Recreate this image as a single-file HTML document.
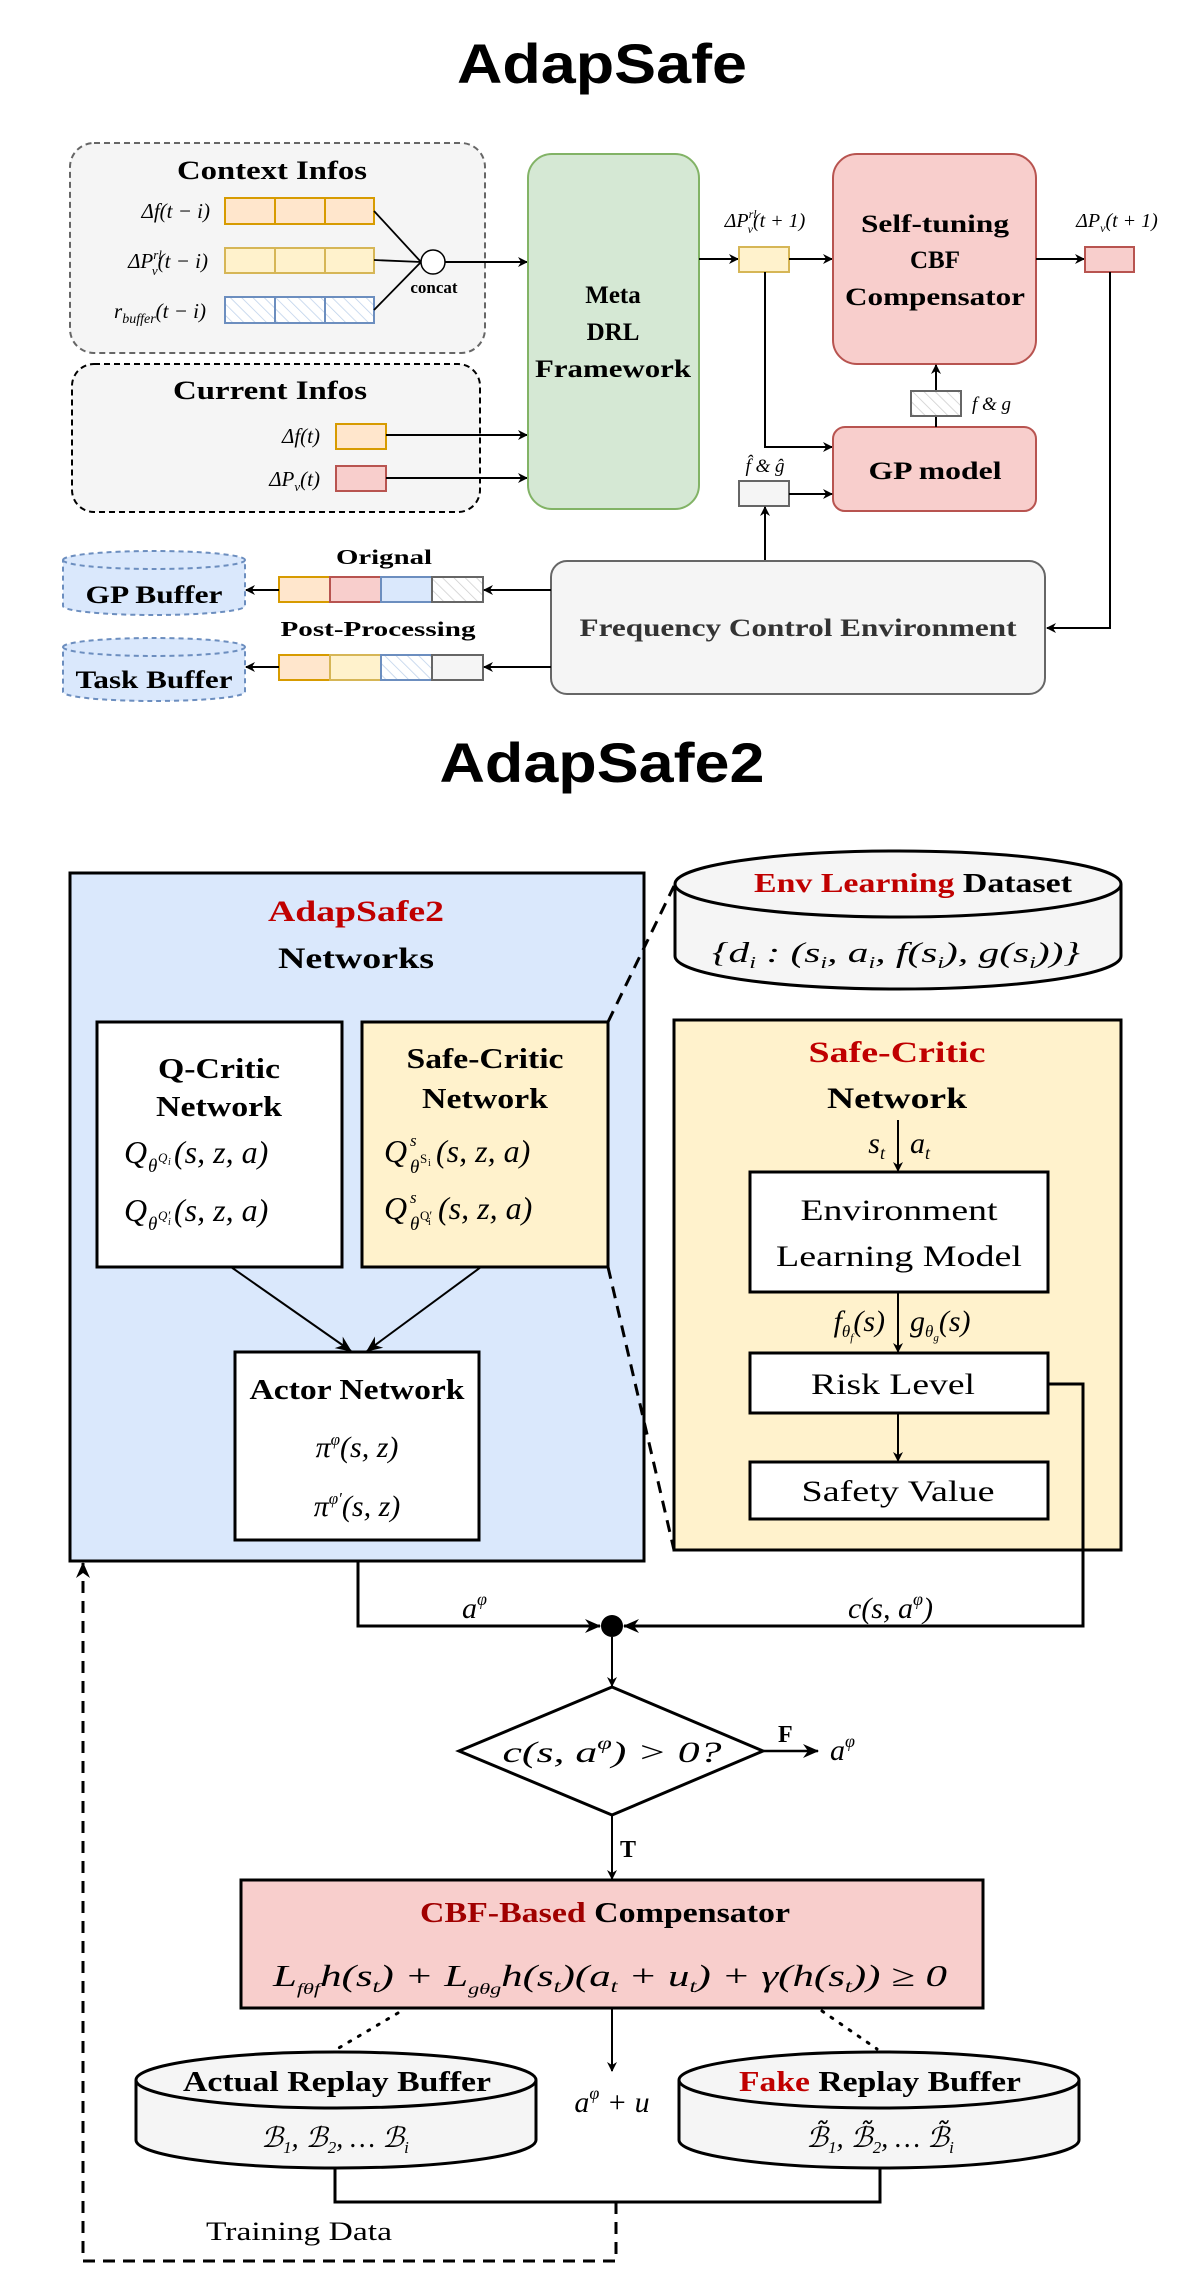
<!DOCTYPE html>
<html><head><meta charset="utf-8"><style>
html,body{margin:0;padding:0;background:#fff;}
svg{display:block;}
.t{font-family:"Liberation Serif",serif;font-weight:bold;}
.m{font-family:"Liberation Serif",serif;font-style:italic;}
.r{font-family:"Liberation Serif",serif;}
</style></head><body>
<svg width="1181" height="2293" viewBox="0 0 1181 2293" xmlns="http://www.w3.org/2000/svg">
<defs>
<pattern id="h" width="8" height="8" patternUnits="userSpaceOnUse" patternTransform="rotate(-45)">
<rect width="8" height="8" fill="#fff"/><line x1="0" y1="0" x2="0" y2="8" stroke="#ccc" stroke-width="1.5"/></pattern>
<pattern id="hb" width="8" height="8" patternUnits="userSpaceOnUse" patternTransform="rotate(-45)">
<rect width="8" height="8" fill="#fff"/><line x1="0" y1="0" x2="0" y2="8" stroke="#bcd0ea" stroke-width="1.5"/></pattern>
<marker id="a" markerWidth="10" markerHeight="10" refX="9" refY="5" orient="auto" markerUnits="userSpaceOnUse"><path d="M0,0 L10,5 L0,10 L3,5 z" fill="#000"/></marker>
<marker id="A" markerWidth="16" markerHeight="16" refX="15" refY="8" orient="auto" markerUnits="userSpaceOnUse"><path d="M0,1 L16,8 L0,15 L5,8 z" fill="#000"/></marker>
</defs>

<!-- ===== TOP ===== -->
<text x="602" y="83" text-anchor="middle" font-family="Liberation Sans,sans-serif" font-weight="bold" font-size="56" textLength="290" lengthAdjust="spacingAndGlyphs">AdapSafe</text>

<rect x="70" y="143" width="415" height="210" rx="24" fill="#f5f5f5" stroke="#666" stroke-width="2" stroke-dasharray="6,4"/>
<text class="t" x="272" y="179" text-anchor="middle" font-size="26" textLength="190" lengthAdjust="spacingAndGlyphs">Context Infos</text>
<text class="m" x="210" y="218" text-anchor="end" font-size="21">Δf(t − i)</text>
<text class="m" x="208" y="268" text-anchor="end" font-size="21">ΔP<tspan font-size="13" dy="-9">rl</tspan><tspan font-size="13" dx="-10" dy="16">v</tspan><tspan dy="-7">(t − i)</tspan></text>
<text class="m" x="206" y="318" text-anchor="end" font-size="21">r<tspan font-size="14" dy="5">buffer</tspan><tspan dy="-5">(t − i)</tspan></text>
<g stroke-width="2">
<rect x="225" y="198" width="50" height="26" fill="#ffe6cc" stroke="#d79b00"/><rect x="275" y="198" width="50" height="26" fill="#ffe6cc" stroke="#d79b00"/><rect x="325" y="198" width="49" height="26" fill="#ffe6cc" stroke="#d79b00"/>
<rect x="225" y="248" width="50" height="25" fill="#fff2cc" stroke="#d6b656"/><rect x="275" y="248" width="50" height="25" fill="#fff2cc" stroke="#d6b656"/><rect x="325" y="248" width="49" height="25" fill="#fff2cc" stroke="#d6b656"/>
<rect x="225" y="297" width="50" height="26" fill="url(#hb)" stroke="#6c8ebf"/><rect x="275" y="297" width="50" height="26" fill="url(#hb)" stroke="#6c8ebf"/><rect x="325" y="297" width="49" height="26" fill="url(#hb)" stroke="#6c8ebf"/>
</g>
<g stroke="#000" stroke-width="1.8" fill="none">
<line x1="374" y1="211" x2="421" y2="262"/><line x1="374" y1="260" x2="421" y2="262"/><line x1="374" y1="310" x2="421" y2="262"/>
</g>
<circle cx="433" cy="262" r="12" fill="#fff" stroke="#000" stroke-width="1.5"/>
<text class="t" x="434" y="293" text-anchor="middle" font-size="17">concat</text>
<line x1="445" y1="262" x2="527" y2="262" stroke="#000" stroke-width="2" marker-end="url(#a)"/>

<rect x="72" y="364" width="408" height="148" rx="22" fill="#f5f5f5" stroke="#000" stroke-width="2" stroke-dasharray="6,4"/>
<text class="t" x="270" y="399" text-anchor="middle" font-size="26" textLength="194" lengthAdjust="spacingAndGlyphs">Current Infos</text>
<text class="m" x="320" y="443" text-anchor="end" font-size="21">Δf(t)</text>
<text class="m" x="320" y="486" text-anchor="end" font-size="21">ΔP<tspan font-size="13" dy="5">v</tspan><tspan dy="-5">(t)</tspan></text>
<rect x="336" y="424" width="50" height="25" fill="#ffe6cc" stroke="#d79b00" stroke-width="2"/>
<rect x="336" y="466" width="50" height="25" fill="#f8cecc" stroke="#b85450" stroke-width="2"/>
<line x1="386" y1="435" x2="527" y2="435" stroke="#000" stroke-width="2" marker-end="url(#a)"/>
<line x1="386" y1="478" x2="527" y2="478" stroke="#000" stroke-width="2" marker-end="url(#a)"/>

<rect x="528" y="154" width="171" height="355" rx="24" fill="#d5e8d4" stroke="#82b366" stroke-width="2"/>
<text class="t" x="613" y="303" text-anchor="middle" font-size="25">Meta</text>
<text class="t" x="613" y="340" text-anchor="middle" font-size="25">DRL</text>
<text class="t" x="613" y="377" text-anchor="middle" font-size="25" textLength="156" lengthAdjust="spacingAndGlyphs">Framework</text>

<text class="m" x="765" y="227" text-anchor="middle" font-size="20">ΔP<tspan font-size="12" dy="-9">rl</tspan><tspan font-size="12" dx="-9" dy="15">v</tspan><tspan dy="-6">(t + 1)</tspan></text>
<line x1="699" y1="259" x2="738" y2="259" stroke="#000" stroke-width="2" marker-end="url(#a)"/>
<rect x="739" y="247" width="50" height="25" fill="#fff2cc" stroke="#d6b656" stroke-width="2"/>
<line x1="789" y1="259" x2="832" y2="259" stroke="#000" stroke-width="2" marker-end="url(#a)"/>
<rect x="833" y="154" width="203" height="210" rx="24" fill="#f8cecc" stroke="#b85450" stroke-width="2"/>
<text class="t" x="935" y="232" text-anchor="middle" font-size="25" textLength="148" lengthAdjust="spacingAndGlyphs">Self-tuning</text>
<text class="t" x="935" y="268" text-anchor="middle" font-size="25">CBF</text>
<text class="t" x="935" y="305" text-anchor="middle" font-size="25" textLength="180" lengthAdjust="spacingAndGlyphs">Compensator</text>
<text class="m" x="1117" y="227" text-anchor="middle" font-size="20">ΔP<tspan font-size="12" dy="5">v</tspan><tspan dy="-5">(t + 1)</tspan></text>
<line x1="1036" y1="259" x2="1084" y2="259" stroke="#000" stroke-width="2" marker-end="url(#a)"/>
<rect x="1085" y="247" width="49" height="25" fill="#f8cecc" stroke="#b85450" stroke-width="2"/>
<polyline points="1110,272 1110,628 1047,628" fill="none" stroke="#000" stroke-width="2" marker-end="url(#a)"/>
<polyline points="765,272 765,447 832,447" fill="none" stroke="#000" stroke-width="2" marker-end="url(#a)"/>

<rect x="833" y="427" width="203" height="84" rx="12" fill="#f8cecc" stroke="#b85450" stroke-width="2"/>
<text class="t" x="935" y="479" text-anchor="middle" font-size="25" textLength="133" lengthAdjust="spacingAndGlyphs">GP model</text>
<line x1="936" y1="427" x2="936" y2="365" stroke="#000" stroke-width="2" marker-end="url(#a)"/>
<rect x="911" y="391" width="50" height="25" fill="url(#h)" stroke="#666" stroke-width="2"/>
<text class="m" x="972" y="410" font-size="19">f &amp; g</text>
<text class="m" x="765" y="472" text-anchor="middle" font-size="19">f̂ &amp; ĝ</text>
<rect x="739" y="481" width="50" height="25" fill="#f5f5f5" stroke="#666" stroke-width="2"/>
<line x1="789" y1="494" x2="832" y2="494" stroke="#000" stroke-width="2" marker-end="url(#a)"/>
<line x1="765" y1="561" x2="765" y2="507" stroke="#000" stroke-width="2" marker-end="url(#a)"/>

<rect x="551" y="561" width="494" height="133" rx="16" fill="#f5f5f5" stroke="#666" stroke-width="2"/>
<text class="t" x="798" y="636" text-anchor="middle" font-size="25" fill="#333" textLength="437" lengthAdjust="spacingAndGlyphs">Frequency Control Environment</text>

<!-- buffers -->
<g fill="#dae8fc" stroke="#6c8ebf" stroke-width="2" stroke-dasharray="5,4">
<path d="M63,560 A91,9 0 0 1 245,560 L245,606 A91,9 0 0 1 63,606 Z"/>
<path d="M63,560 A91,9 0 0 0 245,560"/>
<path d="M63,647 A91,9 0 0 1 245,647 L245,692 A91,9 0 0 1 63,692 Z"/>
<path d="M63,647 A91,9 0 0 0 245,647"/>
</g>
<text class="t" x="154" y="603" text-anchor="middle" font-size="25" textLength="137" lengthAdjust="spacingAndGlyphs">GP Buffer</text>
<text class="t" x="154" y="688" text-anchor="middle" font-size="25" textLength="157" lengthAdjust="spacingAndGlyphs">Task Buffer</text>
<text class="t" x="384" y="564" text-anchor="middle" font-size="21" textLength="96" lengthAdjust="spacingAndGlyphs">Orignal</text>
<text class="t" x="378" y="636" text-anchor="middle" font-size="21" textLength="195" lengthAdjust="spacingAndGlyphs">Post-Processing</text>
<g stroke-width="2">
<rect x="279" y="577" width="51" height="25" fill="#ffe6cc" stroke="#d79b00"/><rect x="330" y="577" width="51" height="25" fill="#f8cecc" stroke="#b85450"/><rect x="381" y="577" width="51" height="25" fill="#dae8fc" stroke="#6c8ebf"/><rect x="432" y="577" width="51" height="25" fill="url(#h)" stroke="#666"/>
<rect x="279" y="655" width="51" height="25" fill="#ffe6cc" stroke="#d79b00"/><rect x="330" y="655" width="51" height="25" fill="#fff2cc" stroke="#d6b656"/><rect x="381" y="655" width="51" height="25" fill="url(#hb)" stroke="#6c8ebf"/><rect x="432" y="655" width="51" height="25" fill="#f5f5f5" stroke="#666"/>
</g>
<line x1="551" y1="590" x2="484" y2="590" stroke="#000" stroke-width="2" marker-end="url(#a)"/>
<line x1="279" y1="590" x2="246" y2="590" stroke="#000" stroke-width="2" marker-end="url(#a)"/>
<line x1="551" y1="667" x2="484" y2="667" stroke="#000" stroke-width="2" marker-end="url(#a)"/>
<line x1="279" y1="667" x2="246" y2="667" stroke="#000" stroke-width="2" marker-end="url(#a)"/>

<!-- ===== BOTTOM ===== -->
<text x="602" y="782" text-anchor="middle" font-family="Liberation Sans,sans-serif" font-weight="bold" font-size="56" textLength="325" lengthAdjust="spacingAndGlyphs">AdapSafe2</text>

<rect x="70" y="873" width="574" height="688" fill="#dae8fc" stroke="#000" stroke-width="3"/>
<text class="t" x="356" y="921" text-anchor="middle" font-size="30" fill="#c00000" textLength="176" lengthAdjust="spacingAndGlyphs">AdapSafe2</text>
<text class="t" x="356" y="968" text-anchor="middle" font-size="30" textLength="156" lengthAdjust="spacingAndGlyphs">Networks</text>

<rect x="97" y="1022" width="245" height="245" fill="#fff" stroke="#000" stroke-width="3"/>
<text class="t" x="219" y="1078" text-anchor="middle" font-size="28" textLength="122" lengthAdjust="spacingAndGlyphs">Q-Critic</text>
<text class="t" x="219" y="1116" text-anchor="middle" font-size="28" textLength="126" lengthAdjust="spacingAndGlyphs">Network</text>
<g class="m">
<text class="m" x="124" y="1163" font-size="32">Q</text>
<text class="m" x="148" y="1172" font-size="19">θ</text>
<text class="r" x="158" y="1162" font-size="13">Q</text><text class="r" x="168" y="1165" font-size="10">i</text>
<text class="m" x="174" y="1163" font-size="32">(s, z, a)</text>
<text class="m" x="124" y="1221" font-size="32">Q</text>
<text class="m" x="148" y="1230" font-size="19">θ</text>
<text class="r" x="158" y="1220" font-size="13">Q′</text><text class="r" x="168" y="1225" font-size="10">i</text>
<text class="m" x="174" y="1221" font-size="32">(s, z, a)</text>
</g>

<rect x="362" y="1022" width="246" height="245" fill="#fff2cc" stroke="#000" stroke-width="3"/>
<text class="t" x="485" y="1068" text-anchor="middle" font-size="28" textLength="157" lengthAdjust="spacingAndGlyphs">Safe-Critic</text>
<text class="t" x="485" y="1108" text-anchor="middle" font-size="28" textLength="126" lengthAdjust="spacingAndGlyphs">Network</text>
<text class="m" x="384" y="1162" font-size="32">Q</text>
<text class="m" x="410" y="1146" font-size="17">s</text>
<text class="m" x="410" y="1173" font-size="19">θ</text>
<text class="r" x="420" y="1163" font-size="13">S</text><text class="r" x="428" y="1166" font-size="10">i</text>
<text class="m" x="436" y="1162" font-size="32">(s, z, a)</text>
<text class="m" x="384" y="1219" font-size="32">Q</text>
<text class="m" x="410" y="1203" font-size="17">s</text>
<text class="m" x="410" y="1230" font-size="19">θ</text>
<text class="r" x="420" y="1220" font-size="13">Q′</text><text class="r" x="428" y="1225" font-size="10">i</text>
<text class="m" x="438" y="1219" font-size="32">(s, z, a)</text>

<line x1="231" y1="1267" x2="351" y2="1351" stroke="#000" stroke-width="2" marker-end="url(#A)"/>
<line x1="481" y1="1267" x2="367" y2="1351" stroke="#000" stroke-width="2" marker-end="url(#A)"/>
<rect x="235" y="1352" width="244" height="188" fill="#fff" stroke="#000" stroke-width="3"/>
<text class="t" x="357" y="1399" text-anchor="middle" font-size="28" textLength="215" lengthAdjust="spacingAndGlyphs">Actor Network</text>
<text class="m" x="357" y="1457" text-anchor="middle" font-size="30">π<tspan font-size="17" dy="-12">φ</tspan><tspan dy="12">(s, z)</tspan></text>
<text class="m" x="357" y="1516" text-anchor="middle" font-size="30">π<tspan font-size="17" dy="-12">φ′</tspan><tspan dy="12">(s, z)</tspan></text>

<!-- dataset cylinder -->
<path d="M675,884 A223,33 0 0 1 1121,884 L1121,956 A223,33 0 0 1 675,956 Z" fill="#f5f5f5" stroke="#000" stroke-width="3"/>
<path d="M675,884 A223,33 0 0 0 1121,884" fill="none" stroke="#000" stroke-width="3"/>
<text class="t" x="913" y="892" text-anchor="middle" font-size="27" textLength="318" lengthAdjust="spacingAndGlyphs"><tspan fill="#c00000">Env Learning</tspan> Dataset</text>
<text class="m" x="896" y="962" text-anchor="middle" font-size="29" textLength="368" lengthAdjust="spacingAndGlyphs">{d<tspan font-size="17" dy="6">i</tspan><tspan dy="-6"> : (s</tspan><tspan font-size="17" dy="6">i</tspan><tspan dy="-6">, a</tspan><tspan font-size="17" dy="6">i</tspan><tspan dy="-6">, f(s</tspan><tspan font-size="17" dy="6">i</tspan><tspan dy="-6">), g(s</tspan><tspan font-size="17" dy="6">i</tspan><tspan dy="-6">))}</tspan></text>

<line x1="608" y1="1022" x2="674" y2="886" stroke="#000" stroke-width="3" stroke-dasharray="12,8"/>
<line x1="608" y1="1267" x2="674" y2="1550" stroke="#000" stroke-width="3" stroke-dasharray="12,8"/>

<rect x="674" y="1020" width="447" height="530" fill="#fff2cc" stroke="#000" stroke-width="3"/>
<text class="t" x="897" y="1062" text-anchor="middle" font-size="30" fill="#c00000" textLength="177" lengthAdjust="spacingAndGlyphs">Safe-Critic</text>
<text class="t" x="897" y="1108" text-anchor="middle" font-size="30" textLength="140" lengthAdjust="spacingAndGlyphs">Network</text>
<text class="m" x="885" y="1153" text-anchor="end" font-size="30">s<tspan font-size="18" dy="6">t</tspan></text>
<text class="m" x="910" y="1153" font-size="30">a<tspan font-size="18" dy="6">t</tspan></text>
<line x1="898" y1="1120" x2="898" y2="1171" stroke="#000" stroke-width="2" marker-end="url(#a)"/>
<rect x="750" y="1172" width="298" height="120" fill="#fff" stroke="#000" stroke-width="3"/>
<text class="r" x="899" y="1220" text-anchor="middle" font-size="30" textLength="197" lengthAdjust="spacingAndGlyphs">Environment</text>
<text class="r" x="899" y="1266" text-anchor="middle" font-size="30" textLength="246" lengthAdjust="spacingAndGlyphs">Learning Model</text>
<text class="m" x="885" y="1331" text-anchor="end" font-size="30">f<tspan font-size="17" dy="6">θ</tspan><tspan font-size="11" dy="4">f</tspan><tspan dy="-10">(s)</tspan></text>
<text class="m" x="910" y="1331" font-size="30">g<tspan font-size="17" dy="6">θ</tspan><tspan font-size="11" dy="4">g</tspan><tspan dy="-10">(s)</tspan></text>
<line x1="898" y1="1292" x2="898" y2="1352" stroke="#000" stroke-width="2" marker-end="url(#a)"/>
<rect x="750" y="1353" width="298" height="60" fill="#fff" stroke="#000" stroke-width="3"/>
<text class="r" x="893" y="1394" text-anchor="middle" font-size="30" textLength="164" lengthAdjust="spacingAndGlyphs">Risk Level</text>
<line x1="898" y1="1413" x2="898" y2="1461" stroke="#000" stroke-width="2" marker-end="url(#a)"/>
<rect x="750" y="1462" width="298" height="57" fill="#fff" stroke="#000" stroke-width="3"/>
<text class="r" x="898" y="1501" text-anchor="middle" font-size="30" textLength="193" lengthAdjust="spacingAndGlyphs">Safety Value</text>

<!-- merge -->
<polyline points="1048,1384 1083,1384 1083,1626 624,1626" fill="none" stroke="#000" stroke-width="3" marker-end="url(#A)"/>
<polyline points="358,1561 358,1626 600,1626" fill="none" stroke="#000" stroke-width="3" marker-end="url(#A)"/>
<ellipse cx="612" cy="1626" rx="11" ry="11" fill="#000"/>
<text class="m" x="462" y="1618" font-size="30">a<tspan font-size="18" dy="-13">φ</tspan></text>
<text class="m" x="848" y="1618" font-size="30">c(s, a<tspan font-size="18" dy="-13">φ</tspan><tspan dy="13">)</tspan></text>
<line x1="612" y1="1637" x2="612" y2="1686" stroke="#000" stroke-width="2" marker-end="url(#a)"/>
<polygon points="612,1687 763,1751 612,1815 459,1751" fill="#fff" stroke="#000" stroke-width="3"/>
<text class="m" x="612" y="1762" text-anchor="middle" font-size="30" textLength="219" lengthAdjust="spacingAndGlyphs">c(s, a<tspan font-size="18" dy="-13">φ</tspan><tspan dy="13">) &gt; 0?</tspan></text>
<line x1="763" y1="1751" x2="818" y2="1751" stroke="#000" stroke-width="2.5" marker-end="url(#A)"/>
<text class="t" x="778" y="1742" font-size="24">F</text>
<text class="m" x="830" y="1760" font-size="30">a<tspan font-size="18" dy="-13">φ</tspan></text>
<line x1="612" y1="1815" x2="612" y2="1879" stroke="#000" stroke-width="2" marker-end="url(#a)"/>
<text class="t" x="620" y="1857" font-size="24">T</text>

<rect x="241" y="1880" width="742" height="128" fill="#f8cecc" stroke="#000" stroke-width="3"/>
<text class="t" x="605" y="1922" text-anchor="middle" font-size="28" textLength="370" lengthAdjust="spacingAndGlyphs"><tspan fill="#a00000">CBF-Based</tspan> Compensator</text>
<text class="m" x="610" y="1986" text-anchor="middle" font-size="31" textLength="674" lengthAdjust="spacingAndGlyphs">L<tspan font-size="16" dy="8">fθf</tspan><tspan dy="-8">h(s</tspan><tspan font-size="18" dy="6">t</tspan><tspan dy="-6">) + L</tspan><tspan font-size="16" dy="8">gθg</tspan><tspan dy="-8">h(s</tspan><tspan font-size="18" dy="6">t</tspan><tspan dy="-6">)(a</tspan><tspan font-size="18" dy="6">t</tspan><tspan dy="-6"> + u</tspan><tspan font-size="18" dy="6">t</tspan><tspan dy="-6">) + γ(h(s</tspan><tspan font-size="18" dy="6">t</tspan><tspan dy="-6">)) ≥ 0</tspan></text>
<line x1="612" y1="2008" x2="612" y2="2071" stroke="#000" stroke-width="2" marker-end="url(#a)"/>
<text class="m" x="612" y="2112" text-anchor="middle" font-size="30">a<tspan font-size="18" dy="-13">φ</tspan><tspan dy="13"> + u</tspan></text>
<line x1="398" y1="2013" x2="337" y2="2049" stroke="#000" stroke-width="3" stroke-dasharray="2,9" stroke-linecap="round"/>
<line x1="822" y1="2011" x2="877" y2="2049" stroke="#000" stroke-width="3" stroke-dasharray="2,9" stroke-linecap="round"/>

<path d="M136,2080 A200,28 0 0 1 536,2080 L536,2140 A200,28 0 0 1 136,2140 Z" fill="#f5f5f5" stroke="#000" stroke-width="3"/>
<path d="M136,2080 A200,28 0 0 0 536,2080" fill="none" stroke="#000" stroke-width="3"/>
<text class="t" x="337" y="2091" text-anchor="middle" font-size="28" textLength="308" lengthAdjust="spacingAndGlyphs">Actual Replay Buffer</text>
<text class="m" x="335" y="2147" text-anchor="middle" font-size="28">ℬ<tspan font-size="17" dy="6">1</tspan><tspan dy="-6">, ℬ</tspan><tspan font-size="17" dy="6">2</tspan><tspan dy="-6">, … ℬ</tspan><tspan font-size="17" dy="6">i</tspan></text>
<path d="M679,2080 A200,28 0 0 1 1079,2080 L1079,2140 A200,28 0 0 1 679,2140 Z" fill="#f5f5f5" stroke="#000" stroke-width="3"/>
<path d="M679,2080 A200,28 0 0 0 1079,2080" fill="none" stroke="#000" stroke-width="3"/>
<text class="t" x="880" y="2091" text-anchor="middle" font-size="28" textLength="282" lengthAdjust="spacingAndGlyphs"><tspan fill="#c00000">Fake</tspan> Replay Buffer</text>
<text class="m" x="880" y="2147" text-anchor="middle" font-size="28">ℬ̃<tspan font-size="17" dy="6">1</tspan><tspan dy="-6">, ℬ̃</tspan><tspan font-size="17" dy="6">2</tspan><tspan dy="-6">, … ℬ̃</tspan><tspan font-size="17" dy="6">i</tspan></text>

<polyline points="335,2168 335,2202 880,2202 880,2168" fill="none" stroke="#000" stroke-width="3"/>
<polyline points="616,2202 616,2261 83,2261 83,1563" fill="none" stroke="#000" stroke-width="3" stroke-dasharray="12,8" marker-end="url(#A)"/>
<text class="r" x="299" y="2240" text-anchor="middle" font-size="26" textLength="186" lengthAdjust="spacingAndGlyphs">Training Data</text>
</svg>
</body></html>
